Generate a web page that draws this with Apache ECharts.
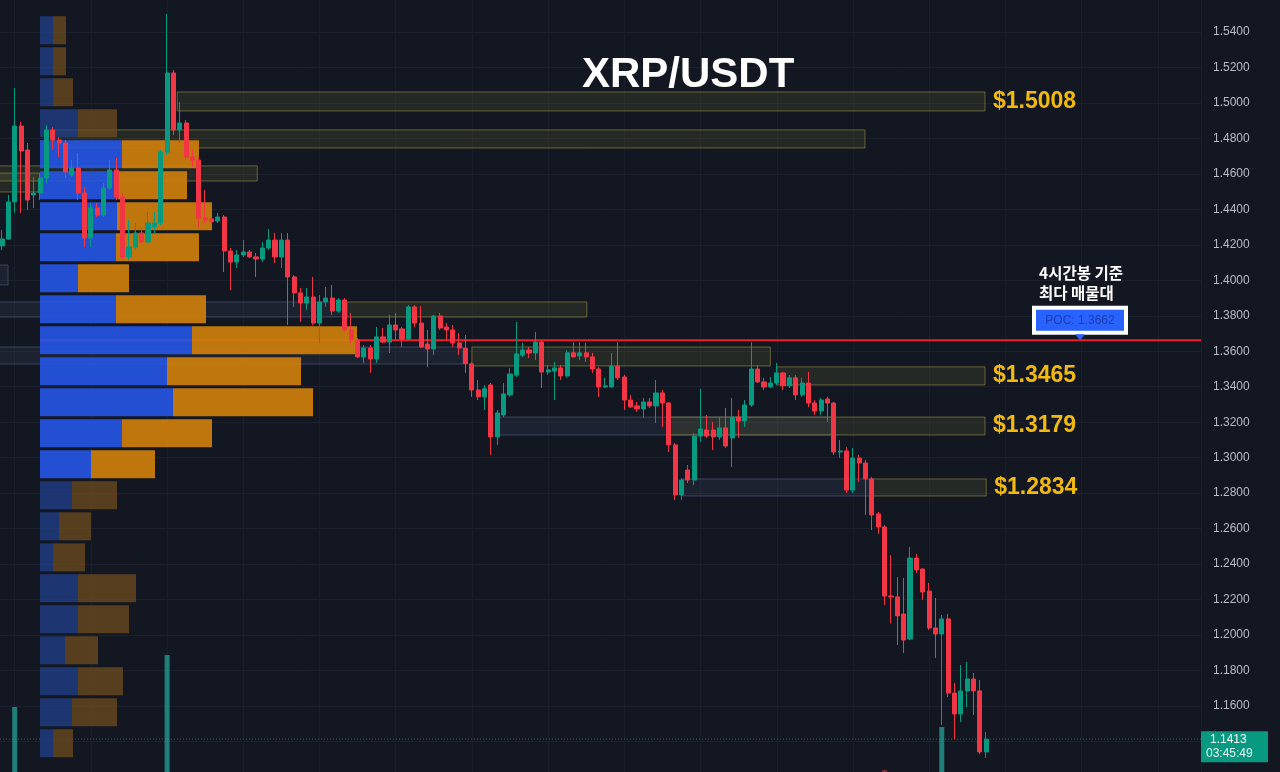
<!DOCTYPE html>
<html><head><meta charset="utf-8">
<script src="https://cdn.jsdelivr.net/npm/echarts@6/dist/echarts.min.js"></script>
<style>html,body{margin:0;padding:0;background:#131722;}#c{width:1280px;height:772px;}</style>
</head><body><div id="c"></div>
<script>
// ---- candles (4H XRP/USDT) ----
const opens = [
1.4194,1.4233,1.4442,1.4870,1.4735,1.4481,1.4492,1.4577,1.4848,1.4791,
1.4774,1.4594,1.4633,1.4492,1.4239,1.4408,1.4368,1.4521,1.4622,1.4470,
1.4132,1.4188,1.4267,1.4216,1.4301,1.4323,1.4723,1.5169,1.4848,1.4887,
1.4695,1.4678,1.4351,1.4346,1.4334,1.4357,1.4165,1.4103,1.4143,1.4160,
1.4132,1.4120,1.4182,1.4227,1.4132,1.4227,1.4019,1.3929,1.3872,1.3906,
1.3759,1.3878,1.3900,1.3827,1.3889,1.3720,1.3664,1.3568,1.3618,1.3557,
1.3681,1.3652,1.3748,1.3726,1.3669,1.3850,1.3759,1.3641,1.3613,1.3799,
1.3737,1.3720,1.3647,1.3618,1.3529,1.3382,1.3343,1.3410,1.3117,1.3241,
1.3354,1.3466,1.3579,1.3607,1.3590,1.3652,1.3483,1.3489,1.3506,1.3461,
1.3591,1.3574,1.3591,1.3568,1.3500,1.3399,1.3399,1.3517,1.3455,1.3325,
1.3292,1.3275,1.3314,1.3292,1.3365,1.3308,1.3072,1.2790,1.2930,1.2874,
1.3122,1.3156,1.3156,1.3117,1.3168,1.3111,1.3229,1.3207,1.3297,1.3500,
1.3427,1.3399,1.3421,1.3478,1.3405,1.3450,1.3354,1.3421,1.3308,1.3263,
1.3331,1.3308,1.3032,1.3038,1.2818,1.2998,1.2970,1.2880,1.2683,1.2609,
1.2220,1.2215,1.2119,1.1978,1.2434,1.2372,1.2248,1.2040,1.2006,1.2091,
1.1673,1.1555,1.1685,1.1752,1.1685,1.1341];
const closes = [
1.4233,1.4442,1.4870,1.4729,1.4453,1.4492,1.4577,1.4848,1.4791,1.4774,
1.4611,1.4633,1.4492,1.4239,1.4408,1.4368,1.4521,1.4622,1.4470,1.4132,
1.4188,1.4267,1.4216,1.4323,1.4323,1.4723,1.5169,1.4848,1.4887,1.4695,
1.4678,1.4351,1.4340,1.4329,1.4357,1.4165,1.4103,1.4143,1.4160,1.4132,
1.4120,1.4182,1.4227,1.4132,1.4227,1.4019,1.3929,1.3872,1.3906,1.3759,
1.3878,1.3900,1.3827,1.3889,1.3720,1.3664,1.3568,1.3618,1.3557,1.3681,
1.3652,1.3748,1.3720,1.3669,1.3850,1.3759,1.3624,1.3613,1.3799,1.3731,
1.3720,1.3647,1.3618,1.3529,1.3382,1.3343,1.3388,1.3117,1.3252,1.3359,
1.3472,1.3585,1.3607,1.3590,1.3652,1.3483,1.3495,1.3506,1.3461,1.3591,
1.3568,1.3591,1.3568,1.3500,1.3399,1.3405,1.3517,1.3450,1.3325,1.3286,
1.3275,1.3314,1.3292,1.3365,1.3308,1.3072,1.2790,1.2874,1.2874,1.3122,
1.3162,1.3122,1.3117,1.3168,1.3066,1.3229,1.3207,1.3297,1.3500,1.3427,
1.3399,1.3421,1.3478,1.3405,1.3450,1.3354,1.3421,1.3308,1.3263,1.3325,
1.3308,1.3032,1.3038,1.2818,1.2998,1.2970,1.2880,1.2677,1.2609,1.2220,
1.2215,1.2108,1.1972,1.2434,1.2367,1.2243,1.2040,1.2006,1.2091,1.1673,
1.1555,1.1685,1.1752,1.1685,1.1341,1.1413];
const lows = [
1.4171,1.4228,1.4380,1.4380,1.4396,1.4408,1.4453,1.4549,1.4735,1.4695,
1.4577,1.4583,1.4453,1.4188,1.4188,1.4357,1.4357,1.4509,1.4453,1.4115,
1.4115,1.4171,1.4210,1.4210,1.4267,1.4312,1.4707,1.4819,1.4774,1.4678,
1.4639,1.4295,1.4323,1.4318,1.4323,1.4047,1.3945,1.4069,1.4132,1.4126,
1.4019,1.4103,1.4171,1.4098,1.4069,1.3748,1.3850,1.3765,1.3833,1.3748,
1.3647,1.3850,1.3804,1.3816,1.3709,1.3647,1.3562,1.3534,1.3478,1.3534,
1.3647,1.3590,1.3664,1.3624,1.3664,1.3737,1.3618,1.3512,1.3579,1.3720,
1.3664,1.3624,1.3579,1.3478,1.3343,1.3325,1.3269,1.3016,1.3072,1.3229,
1.3343,1.3455,1.3568,1.3562,1.3551,1.3393,1.3467,1.3325,1.3438,1.3450,
1.3568,1.3551,1.3540,1.3478,1.3343,1.3393,1.3393,1.3438,1.3269,1.3280,
1.3258,1.3224,1.3280,1.3196,1.3173,1.3032,1.2761,1.2761,1.2857,1.2846,
1.3089,1.3111,1.3043,1.3100,1.3055,1.2947,1.3111,1.3173,1.3286,1.3421,
1.3382,1.3393,1.3410,1.3382,1.3393,1.3325,1.3343,1.3286,1.3241,1.3241,
1.3201,1.3016,1.2999,1.2801,1.2801,1.2863,1.2677,1.2592,1.2570,1.2170,
1.2068,1.1944,1.1899,1.1972,1.2350,1.2198,1.2029,1.1871,1.1493,1.1651,
1.1414,1.1510,1.1594,1.1549,1.1329,1.1307];
const highs = [
1.4284,1.4481,1.5084,1.4893,1.4774,1.4583,1.4605,1.4876,1.4864,1.4808,
1.4791,1.4678,1.4718,1.4526,1.4436,1.4436,1.4549,1.4678,1.4690,1.4492,
1.4340,1.4323,1.4301,1.4385,1.4385,1.4735,1.5502,1.5186,1.5005,1.4904,
1.4735,1.4695,1.4509,1.4357,1.4380,1.4368,1.4182,1.4171,1.4227,1.4171,
1.4154,1.4216,1.4289,1.4267,1.4267,1.4267,1.4030,1.3957,1.3957,1.4019,
1.3917,1.3962,1.3974,1.3900,1.3900,1.3816,1.3675,1.3635,1.3635,1.3737,
1.3731,1.3805,1.3816,1.3737,1.3861,1.3861,1.3855,1.3720,1.3805,1.3816,
1.3759,1.3748,1.3703,1.3692,1.3540,1.3438,1.3410,1.3421,1.3269,1.3421,
1.3506,1.3765,1.3647,1.3624,1.3709,1.3658,1.3523,1.3540,1.3523,1.3607,
1.3652,1.3652,1.3647,1.3591,1.3512,1.3450,1.3591,1.3652,1.3467,1.3354,
1.3314,1.3337,1.3337,1.3438,1.3382,1.3314,1.3083,1.2885,1.2958,1.3139,
1.3388,1.3241,1.3201,1.3229,1.3280,1.3337,1.3269,1.3325,1.3652,1.3523,
1.3450,1.3455,1.3534,1.3483,1.3466,1.3466,1.3450,1.3483,1.3325,1.3337,
1.3343,1.3314,1.3100,1.3060,1.3055,1.3016,1.2987,1.2891,1.2694,1.2620,
1.2451,1.2327,1.2322,1.2496,1.2457,1.2378,1.2294,1.2209,1.2113,1.2119,
1.1730,1.1831,1.1848,1.1786,1.1747,1.1454];

// ---- volume (only the bars tall enough to show) ----
const volumeIndex = [2, 26, 139, 148];
const volumeValue = [65, 117, 2, 45];

// ---- volume profile (price bins, up / down volume) ----
const profileLevels = [1.5410,1.5235,1.5060,1.4886,1.4711,1.4536,1.4361,1.4186,1.4012,1.3837,1.3662,1.3487,
                       1.3312,1.3138,1.2963,1.2788,1.2613,1.2438,1.2264,1.2089,1.1914,1.1739,1.1564,1.1390];
const profileUp   = [13,13,13,38,82,78,77,76,38,76,152,127,133,82,51,32,19,13,38,38,25,38,32,13];
const profileDown = [13,13,20,39,77,69,95,83,51,90,165,134,140,90,64,45,32,32,58,51,33,45,45,20];
const valueAreaFrom = 4, valueAreaTo = 14;
const profileBin = 0.017478;

// ---- support / resistance zones (x in candle index) ----
const zoneStart  = [27.6, 8.3, -2, -2, -2, -2, 54.3, -2, 74, 122, 78, 105.2, 107.2, 137.2];
const zoneEnd    = [154.8, 135.9, 40.2, 6, 0.95, 54.3, 92.1, 72.6, 121, 154.8, 130.9, 154.8, 137.2, 155];
const zoneTop    = [1.5062,1.4848,1.4645,1.4605,1.4086,1.3878,1.3878,1.3624,1.3624,1.3512,1.3229,1.3229,1.2880,1.2880];
const zoneBottom = [1.4955,1.4746,1.4560,1.4498,1.3974,1.3793,1.3793,1.3528,1.3517,1.3410,1.3128,1.3128,1.2784,1.2784];
const zoneKind   = ['olive','olive','olive','olive','slate','slate','olive','slate','olive','olive','slate','olive','slate','olive'];
const zoneLabels = ['$1.5008','','','','','','','','','$1.3465','','$1.3179','','$1.2834'];

const pocPrice = 1.3662;
const lastPrice = 1.1413;
const countdown = '03:45:49';
const priceTicks = {min: 1.12, max: 1.56, step: 0.02};

// ---- layout constants ----
const X_MIN = -0.315, X_MAX = 188.82;
const GRID = {left: 0, right: 79, top: -3.47, height: 780.4};

const candleData = opens.map((o, i) => [i, o, closes[i], lows[i], highs[i]]);
const volumeData = volumeIndex.map((idx, k) => ({
  value: [idx, volumeValue[k]],
  itemStyle: {color: closes[idx] >= opens[idx] ? 'rgba(38,166,154,0.72)' : 'rgba(242,54,69,0.5)'}
}));
const profileData = profileLevels.map((l, i) => [l, profileUp[i], profileDown[i], (i >= valueAreaFrom && i <= valueAreaTo) ? 1 : 0]);
const zoneData = zoneStart.map((s, i) => [s, zoneEnd[i], zoneTop[i], zoneBottom[i]]);

const chart = echarts.init(document.getElementById('c'), null, {renderer: 'canvas'});
const FONT = '"Liberation Sans", Arial, sans-serif';
const G = {containLabel: false, outerBoundsMode: 'none'};

const option = {
  animation: false,
  backgroundColor: '#131722',
  title: {
    text: 'XRP/USDT', left: 577, top: 49,
    textStyle: {color: '#ffffff', fontSize: 42, fontWeight: 'bold', fontFamily: FONT}
  },
  grid: [
    Object.assign({left: GRID.left, right: GRID.right, top: GRID.top, height: GRID.height}, G),   // main
    Object.assign({left: 40, width: 400, top: GRID.top, height: GRID.height}, G),                  // profile
    Object.assign({left: GRID.left, right: GRID.right, bottom: 0, height: 150}, G),                // volume
    Object.assign({left: -61.5, right: GRID.right, top: 0, bottom: 0}, G)                          // vertical grid lines
  ],
  xAxis: [
    {type: 'value', gridIndex: 0, min: X_MIN, max: X_MAX, show: false, splitLine: {show: false}},
    {type: 'value', gridIndex: 1, min: 0, max: 400, show: false},
    {type: 'value', gridIndex: 2, min: X_MIN, max: X_MAX, show: false},
    {type: 'value', gridIndex: 3, min: 0, max: 198.8, interval: 12, axisLine: {show: false}, axisTick: {show: false},
     axisLabel: {show: false}, splitLine: {show: true, lineStyle: {color: '#1a1e2a', width: 1}}}
  ],
  yAxis: [
    {type: 'value', gridIndex: 0, position: 'right', min: priceTicks.min, max: priceTicks.max, interval: priceTicks.step,
     axisLine: {show: false}, axisTick: {show: false},
     axisLabel: {color: '#b8bcc6', fontSize: 12, fontFamily: FONT, margin: 12,
                 formatter: v => (v < priceTicks.min + priceTicks.step / 2 ? '' : v.toFixed(4))},
     splitLine: {show: true, lineStyle: {color: '#1c202c', width: 1}}},
    {type: 'value', gridIndex: 1, min: priceTicks.min, max: priceTicks.max, show: false},
    {type: 'value', gridIndex: 2, min: 0, max: 150, show: false},
    {type: 'value', gridIndex: 3, show: false}
  ],
  series: [
    {
      name: 'zones', type: 'custom', xAxisIndex: 0, yAxisIndex: 0, z: 1, silent: true,
      data: zoneData,
      renderItem: (params, api) => {
        const i = params.dataIndex;
        const a = api.coord([api.value(0), api.value(2)]);
        const b = api.coord([api.value(1), api.value(3)]);
        const olive = zoneKind[i] === 'olive';
        const children = [{
          type: 'rect',
          shape: {x: a[0], y: a[1], width: b[0] - a[0], height: b[1] - a[1]},
          style: {
            fill: olive ? 'rgba(130,130,60,0.17)' : 'rgba(90,110,150,0.13)',
            stroke: olive ? 'rgba(150,145,70,0.6)' : 'rgba(100,118,155,0.45)',
            lineWidth: 1
          }
        }];
        if (zoneLabels[i]) {
          children.push({
            type: 'text', x: b[0] + 8, y: (a[1] + b[1]) / 2,
            style: {text: zoneLabels[i], fill: '#f2b90f', font: 'bold 23px ' + FONT, verticalAlign: 'middle', align: 'left'}
          });
        }
        return {type: 'group', children};
      }
    },
    {
      name: 'poc', type: 'line', xAxisIndex: 0, yAxisIndex: 0, z: 2, silent: true,
      data: [[5.98, pocPrice], [X_MAX, pocPrice]], showSymbol: false, symbol: 'none',
      lineStyle: {color: '#ee1f2b', width: 2}
    },
    {
      name: 'lastPrice', type: 'line', xAxisIndex: 0, yAxisIndex: 0, z: 2, silent: true,
      data: [[X_MIN, lastPrice], [X_MAX, lastPrice]], showSymbol: false, symbol: 'none',
      lineStyle: {color: '#2f5f5a', width: 1, type: [1, 2]}
    },
    {
      name: 'profile', type: 'custom', xAxisIndex: 1, yAxisIndex: 1, z: 3, silent: true,
      data: profileData,
      renderItem: (params, api) => {
        const lvl = api.value(0), up = api.value(1), dn = api.value(2), va = api.value(3);
        const top = api.coord([0, lvl + profileBin / 2]);
        const bot = api.coord([0, lvl - profileBin / 2]);
        const xUp = api.coord([up, lvl])[0];
        const xDn = api.coord([up + dn, lvl])[0];
        const y = top[1] + 1.5, h = bot[1] - top[1] - 3;
        return {type: 'group', children: [
          {type: 'rect', shape: {x: top[0], y, width: xUp - top[0], height: h},
           style: {fill: va ? 'rgba(38,86,230,0.9)' : 'rgba(33,64,140,0.75)'}},
          {type: 'rect', shape: {x: xUp, y, width: xDn - xUp, height: h},
           style: {fill: va ? 'rgba(205,127,12,0.92)' : 'rgba(110,76,30,0.75)'}}
        ]};
      }
    },
    {
      name: 'volume', type: 'bar', xAxisIndex: 2, yAxisIndex: 2, z: 3, silent: true,
      barWidth: 5, data: volumeData
    },
    {
      name: 'XRP/USDT', type: 'candlestick', xAxisIndex: 0, yAxisIndex: 0, z: 5, silent: true,
      barWidth: 4.6,
      encode: {x: 0, y: [1, 2, 3, 4]},
      data: candleData,
      itemStyle: {color: '#089981', color0: '#f23645', borderColor: '#089981', borderColor0: '#f23645', borderWidth: 1}
    }
  ]
};
chart.setOption(option);

// annotations anchored to price levels
const yPoc = chart.convertToPixel({yAxisIndex: 0}, pocPrice);
const yLast = chart.convertToPixel({yAxisIndex: 0}, lastPrice);
chart.setOption({
  graphic: [
    {type: 'text', left: 1039, top: yPoc - 77, z: 20,
     style: {text: '4시간봉 기준\n최다 매물대', fill: '#ffffff', font: 'bold 15.5px "Noto Sans CJK KR", sans-serif', lineHeight: 20}},
    {type: 'rect', shape: {x: 1034, y: yPoc - 32.5, width: 92, height: 25}, z: 20,
     style: {fill: '#2962ff', stroke: '#ffffff', lineWidth: 4}},
    {type: 'text', x: 1080, y: yPoc - 20, z: 21,
     style: {text: 'POC: 1.3662', fill: '#1b3fae', font: '12px ' + FONT, align: 'center', verticalAlign: 'middle'}},
    {type: 'polygon', shape: {points: [[1075, yPoc - 6], [1085, yPoc - 6], [1080, yPoc]]}, z: 20,
     style: {fill: '#2962ff'}},
    {type: 'rect', shape: {x: 1201, y: yLast - 8, width: 67, height: 31, r: 1}, z: 20,
     style: {fill: '#089981'}},
    {type: 'text', x: 1210, y: yLast + 1, z: 21,
     style: {text: lastPrice.toFixed(4), fill: '#ffffff', font: '12px ' + FONT, verticalAlign: 'middle'}},
    {type: 'text', x: 1206, y: yLast + 15, z: 21,
     style: {text: countdown, fill: '#e6f5f2', font: '12px ' + FONT, verticalAlign: 'middle'}}
  ]
});
</script>
</body></html>
